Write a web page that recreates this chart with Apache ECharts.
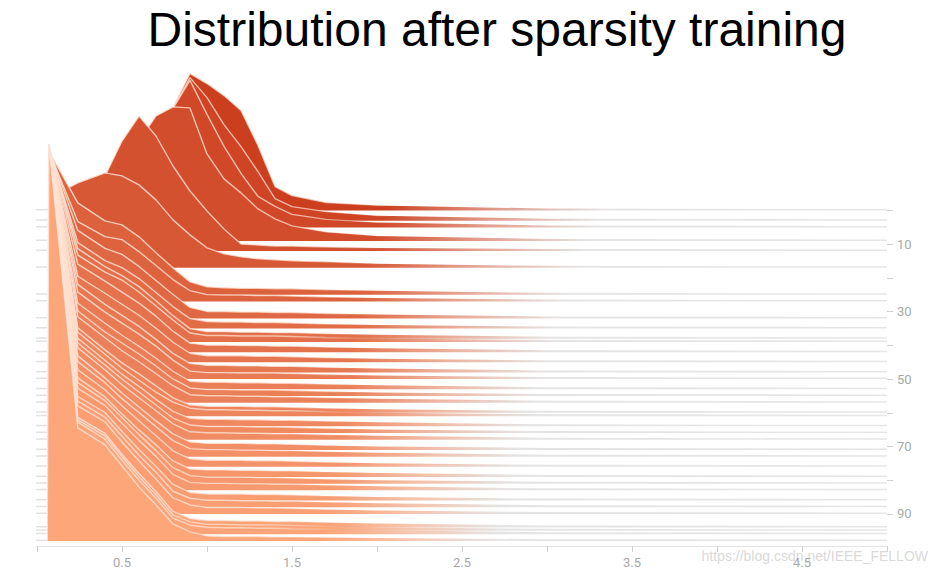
<!DOCTYPE html>
<html>
<head>
<meta charset="utf-8">
<script src="https://cdn.jsdelivr.net/npm/echarts/dist/echarts.min.js"></script>
<style>html,body{margin:0;padding:0;background:#fff}#c{width:930px;height:572px}</style>
</head>
<body>
<div id="c"></div>
<script>
// ---- data ----
const TITLE = 'Distribution after sparsity training';
const WATERMARK = 'https://blog.csdn.net/IEEE_FELLOW';
const STEPS = [0,3,5,9,12,17,25,27,32,35,38,39,42,45,48,50,53,55,57,60,61,64,66,68,71,73,76,79,81,83,86,88,90,94,95,96,98];
const BIN_X = [-0.02,0.06,0.07,0.24,0.4,0.5,0.6,0.7,0.8,0.9,1.0,1.1,1.2,1.3,1.4,1.5,1.7,2.0,3.0,5.0];
const X_LABELS = [0.5,1.5,2.5,3.5,4.5];
const X_TICKS = [0,0.5,1,1.5,2,2.5,3,3.5,4,4.5,5];
const Y_LABELS = [10,30,50,70,90];
const Y_TICKS = [0,10,20,30,40,50,60,70,80,90];

// histogram densities per step (one value per BIN_X)
const h000 = [1.5,1.5,5,10,20,30,45,67,103,137,127,115,100,65,24,15,8,5,2,1.5];
const h003 = [1.5,1.5,6,12,24,36,52,76,112,143,123,96,74,49,22,14,9,5,2,1.5];
const h005 = [1.5,1.5,8,15,28,42,60,83,119,147,113,81,54,31,21,13,8,5,2,1.5];
const h009 = [1.5,1.5,15,30,50,70,100,125,134,133,87,62,48,32,22,15,9,5,2,1.5];
const h012 = [1.5,1.5,30,50,75,110,135,115,85,60,40,22,7,6,5,5,4,3,2,1.5];
const h017 = [1.5,1.5,70,85,95,92,83,68,48,33,20,14,11,9,8,7,6,4,2,1.5];
const h025 = [1.5,1.5,144,92,74,70,58,42,27,13,8,7,6.5,6.5,6,6,5,4,2,1.5];
const h027 = [1.5,1.5,151,80,65,62,50,36,22,11,7,6.5,6.5,6,6,5.5,4.5,3.5,2,1.5];
const h032 = [1.5,1.5,170,88,70,64,52,38,24,11,7,7,6.5,6.5,6,6,5,4,2,1.5];
const h035 = [1.5,1.5,181,86,68,61,50,36,22,10,7,6.5,6.5,6,6,5.5,4.5,3.5,2,1.5];
const h038 = [1.5,1.5,192,90,72,63,52,38,23,10,7,7,6.5,6.5,6,6,5,4,2,1.5];
const h039 = [1.5,1.5,196,87,70,62,50,36,22,9,6.5,6.5,6,6,6,5.5,4.5,3.5,2,1.5];
const h042 = [1.5,1.5,206,88,71,60,49,36,21,9,7,7,6.5,6.5,6,6,5,4,2,1.5];
const h045 = [1.5,1.5,216,86,69,58,47,34,20,9,6.5,6.5,6.5,6,6,5.5,4.5,3.5,2,1.5];
const h048 = [1.5,1.5,226,88,68,57,46,33,19,9,7,7,6.5,6.5,6,6,5,4,2,1.5];
const h050 = [1.5,1.5,233,87,67,56,45,33,19,8,6.5,6.5,6,6,6,5.5,4.5,3.5,2,1.5];
const h053 = [1.5,1.5,244,86,66,54,43,31,18,8,7,7,6.5,6.5,6,6,5,4,2,1.5];
const h055 = [1.5,1.5,250,85,64,53,42,30,17,8,6.5,6.5,6,6,6,5.5,4.5,3.5,2,1.5];
const h057 = [1.5,1.5,257,86,65,52,41,29,17,8,7,7,6.5,6.5,6,6,5,4,2,1.5];
const h060 = [1.5,1.5,267,85,63,50,39,27,15,8,6.5,6.5,6.5,6,6,5.5,4.5,3.5,2,1.5];
const h061 = [1.5,1.5,271,84,62,48,36,24,14,8,6.5,6.5,6,6,5.5,5.5,4.5,3.5,2,1.5];
const h064 = [1.5,1.5,281,88,66,52,40,27,15,8,7,7,6.5,6.5,6,6,5,4,2,1.5];
const h066 = [1.5,1.5,287,90,68,54,41,28,15,8,6.5,6.5,6.5,6,6,5.5,4.5,3.5,2,1.5];
const h068 = [1.5,1.5,294,92,70,55,42,29,16,8,7,7,6.5,6.5,6,6,5,4,2,1.5];
const h071 = [1.5,1.5,305,94,72,57,43,29,16,8,6.5,6.5,6.5,6,6,5.5,4.5,3.5,2,1.5];
const h073 = [1.5,1.5,311,95,74,58,44,30,16,8,7,7,6.5,6.5,6,6,5,4,2,1.5];
const h076 = [1.5,1.5,322,97,77,61,46,31,16,8,6.5,6.5,6.5,6,6,5.5,4.5,3.5,2,1.5];
const h079 = [1.5,1.5,332,99,80,63,47,32,16,8,7,7,6.5,6.5,6,6,5,4,2,1.5];
const h081 = [1.5,1.5,339,101,83,66,49,33,16,8,6.5,6.5,6.5,6,6,5.5,4.5,3.5,2,1.5];
const h083 = [1.5,1.5,346,102,85,67,50,34,16,8,7,7,6.5,6.5,6,6,5,4,2,1.5];
const h086 = [1.5,1.5,356,104,88,69,51,34,16,8,6.5,6.5,6.5,6,6,5.5,4.5,3.5,2,1.5];
const h088 = [1.5,1.5,362,106,90,71,52,35,16,9,7,7,6.5,6.5,6,6,5,4,2,1.5];
const h090 = [1.5,1.5,369,108,92,72,53,35,16,9,6.5,6.5,6.5,6,6,5.5,4.5,3.5,2,1.5];
const h094 = [1.5,1.5,383,110,94,73,54,36,16,9,7,7,6.5,6.5,6,6,5,4,2,1.5];
const h095 = [1.5,1.5,386,111,95,74,54,36,16,9,6.5,6.5,6,6,6,5.5,4.5,3.5,2,1.5];
const h096 = [1.5,1.5,390,112,95,74,54,36,16,9,7,6.5,6.5,6,6,5.5,5,4,2,1.5];
const h098 = [1.5,1.5,396,113,96,75,54,36,17,9,5,4.5,4.5,4.5,4,4,3.5,3,1.8,1.5];
const HISTS = [h000,h003,h005,h009,h012,h017,h025,h027,h032,h035,h038,h039,h042,h045,h048,h050,
  h053,h055,h057,h060,h061,h064,h066,h068,h071,h073,h076,h079,h081,h083,h086,h088,h090,h094,h095,h096,h098];

// ---- styling ----
const DENSITY_PER_STEP = 3.371; // display scale: density units per step unit
const C_DARK = [203,62,30], C_LIGHT = [253,166,122];
function mix(a,b,t){return a.map((v,i)=>Math.round(v+(b[i]-v)*t));}
function rgb(c){return `rgb(${c[0]},${c[1]},${c[2]})`;}
const lastStep = STEPS[STEPS.length-1];

const series = STEPS.map((s,i)=>{
  const t = Math.pow(s/lastStep, 0.8);
  const c = mix(C_DARK, C_LIGHT, t);
  const fs = 0.41 - 0.07*t, fe = 0.67 - 0.13*t;
  const mid = mix(c,[240,228,224],0.55);
  const area = {type:'linear',x:0,y:0,x2:1,y2:0,colorStops:[
    {offset:0,color:'#e2e2e2'},{offset:0.016,color:'#e2e2e2'},{offset:0.017,color:rgb(c)},
    {offset:fs,color:rgb(c)},{offset:(fs+fe)/2,color:rgb(mid)},{offset:fe,color:'#e4e4e4'},{offset:1,color:'#e6e6e6'}]};
  const line = {type:'linear',x:0,y:0,x2:1,y2:0,colorStops:[
    {offset:0,color:'rgba(255,255,255,0)'},{offset:0.016,color:'rgba(255,255,255,0)'},
    {offset:0.017,color:'rgba(255,228,214,0.85)'},{offset:fs-0.08,color:'rgba(255,228,214,0.7)'},
    {offset:fs+0.02,color:'rgba(255,255,255,0)'},{offset:1,color:'rgba(255,255,255,0)'}]};
  return {
    type:'line', silent:true, animation:false, symbol:'none', smooth:false,
    data: BIN_X.map((x,j)=>[x, s - HISTS[i][j]/DENSITY_PER_STEP]),
    lineStyle:{width:1.4, color:line},
    areaStyle:{origin:s, opacity:1, color:area},
    z: 10 + i
  };
});

const chart = echarts.init(document.getElementById('c'), null, {renderer:'svg'});
chart.setOption({
  animation:false,
  backgroundColor:'#fff',
  grid:{left:37,right:43,top:42,bottom:26},
  xAxis:{type:'value',min:0,max:5,
    axisLine:{show:true,onZero:false,lineStyle:{color:'#e4e4e4',width:1}},
    axisTick:{show:true,length:6,lineStyle:{color:'#d0d0d0'},customValues:X_TICKS},
    axisLabel:{color:'#a8a8a8',fontSize:13,margin:10,fontFamily:'Roboto, sans-serif',customValues:X_LABELS,formatter:v=>v.toFixed(1)},
    splitLine:{show:false}},
  yAxis:{type:'value',inverse:true,min:-50,max:99.5,position:'right',
    axisLine:{show:false,onZero:false},
    axisTick:{show:true,length:6,lineStyle:{color:'#d0d0d0'},customValues:Y_TICKS},
    axisLabel:{color:'#a8a8a8',fontSize:13,margin:10,fontFamily:'Roboto, sans-serif',customValues:Y_LABELS},
    splitLine:{show:false}},
  graphic:[
    {type:'text',x:497,y:29.5,z:100,style:{text:TITLE,font:'48px "Liberation Sans", Arial, sans-serif',fill:'#000',textAlign:'center',textVerticalAlign:'middle'}},
    {type:'text',x:928,y:556,z:0,style:{text:WATERMARK,font:'14px "Liberation Sans", Arial, sans-serif',fill:'rgba(200,200,200,0.7)',textAlign:'right',textVerticalAlign:'middle'}}
  ],
  series: series
});
</script>
</body>
</html>
